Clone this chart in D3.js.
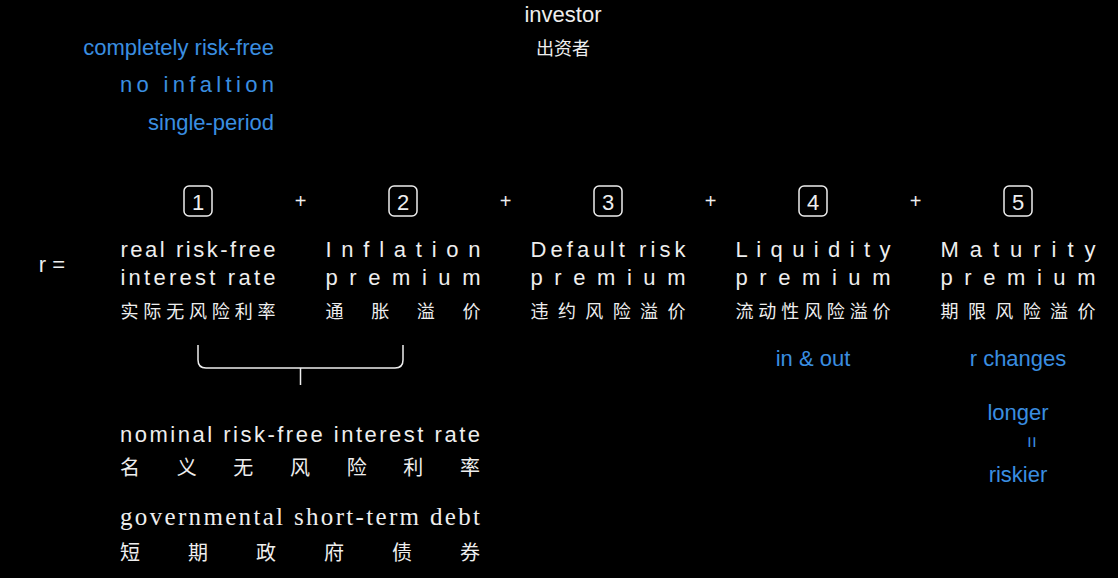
<!DOCTYPE html><html><head><meta charset="utf-8">
<script src="https://cdn.jsdelivr.net/npm/d3@7"></script>
<style>body{margin:0;background:#000}</style></head><body><svg id="s" width="1118" height="578"></svg>
<script>
const numbers=["1","2","3","4","5"];
const line1=["real risk-free","I n f l a t i o n","Default risk","L i q u i d i t y","M a t u r i t y"];
const line2=["interest rate","p r e m i u m","p r e m i u m","p r e m i u m","p r e m i u m"];
const line3=["实际无风险利率","通 胀 溢 价","违约风险溢价","流动性风险溢价","期限风险溢价"];
const notes=["completely risk-free","no infaltion","single-period"];
const bottom=[["nominal risk-free interest rate","名 义 无 风 险 利 率"],["governmental short-term debt","短 期 政 府 债 券"]];
const blue="#3a8ee0", W="#eee", sans="'Liberation Sans',Arial,sans-serif", cjk="'Noto Sans CJK SC',sans-serif";
const svg=d3.select("#s");
svg.append("rect").attr("width",1118).attr("height",578).attr("fill","#000");
const x=d3.scalePoint().domain(d3.range(5)).range([198,1018]);
function t(txt,px,py,o={}){const e=svg.append("text").attr("x",px).attr("y",py).text(txt)
 .attr("fill",o.fill||W).attr("font-family",o.font||sans).attr("font-size",o.size||22).attr("text-anchor",o.anchor||"middle");
 if(o.len){e.attr("textLength",o.len).attr("lengthAdjust","spacing");}return e;}
t("investor",563,22);
t("出资者",563,55,{font:cjk,size:18});
[55,92,130].forEach((y,i)=>t(notes[i],274,y,{fill:blue,anchor:"end",len:i==1?154:null}));
t("r =",52,272);
numbers.forEach((n,i)=>{const cx=x(i);
 svg.append("rect").attr("x",cx-14).attr("y",186).attr("width",28).attr("height",30).attr("rx",5).attr("fill","none").attr("stroke",W).attr("stroke-width",1.5);
 t(n,cx,210,{size:22});
 if(i<4)t("+",(cx+x(i+1))/2,208,{size:20});
 t(line1[i],cx,257,{len:155});
 t(line2[i],cx,285,{len:155});
 t(line3[i],cx,318,{font:cjk,size:18,len:155});
});
const a=x(0),b=x(1),m=(a+b)/2;
svg.append("path").attr("d",`M${a},345 V360 Q${a},368 ${a+8},368 H${b-8} Q${b},368 ${b},360 V345 M${m},368 V385`).attr("fill","none").attr("stroke",W).attr("stroke-width",1.5);
t(bottom[0][0],300,442,{len:360});
t(bottom[0][1],300,475,{font:cjk,size:20,len:360});
t(bottom[1][0],300,525,{font:"'Liberation Serif',serif",size:25,len:360});
t(bottom[1][1],300,560,{font:cjk,size:20,len:360});
t("in & out",x(3),366,{fill:blue});
t("r changes",x(4),366,{fill:blue});
t("longer",x(4),420,{fill:blue});
t("=",0,0,{fill:blue,size:20}).attr("transform",`translate(${x(4)+7},442) rotate(90)`);
t("riskier",x(4),482,{fill:blue});
</script></body></html>
